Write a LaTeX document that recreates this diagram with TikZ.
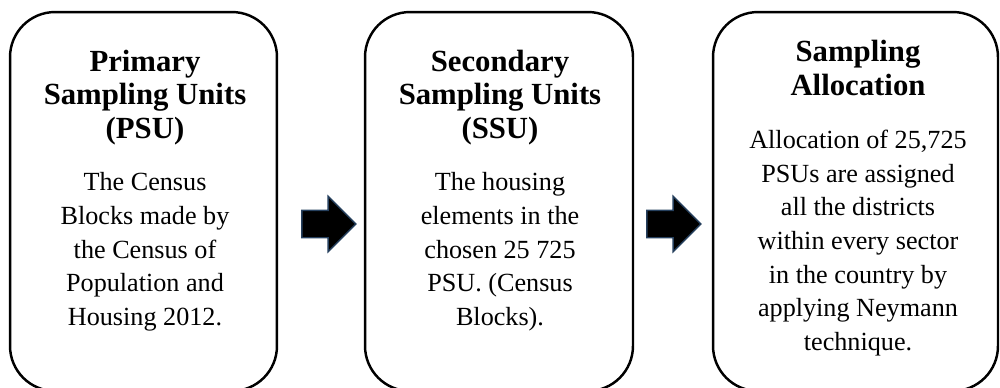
\documentclass[tikz,border=0pt]{standalone}
\usepackage{fontspec}
\setmainfont{Liberation Serif}
\usepackage{tikz}
\usetikzlibrary{shapes.arrows}
\definecolor{arrowedge}{RGB}{38,64,94}
\tikzset{stage/.style={draw=black,line width=1.4pt,rounded corners=0.9cm,minimum height=7.58cm,inner sep=0pt}}
\tikzset{heading/.style={font=\fontsize{17.5}{18.8}\selectfont\bfseries,align=center,anchor=base,inner sep=0pt}}
\tikzset{body/.style={font=\fontsize{14.9}{19.07}\selectfont,align=center,anchor=base,inner sep=0pt}}
\tikzset{flow/.style={single arrow,fill=black,draw=arrowedge,line width=0.8pt,inner xsep=0pt,inner ysep=0.26cm,single arrow head extend=0.28cm,minimum height=1.08cm}}

\begin{document}
\begin{tikzpicture}[x=0.02cm,y=-0.02cm]
  \useasboundingbox (0,0) rectangle (1000,387);
  \clip (0,0) rectangle (1000,387);
  % Boxes
  \node[stage,minimum width=5.34cm] (psu) at (143.5,201.5) {};
  \node[stage,minimum width=5.36cm] (ssu) at (499,201.5) {};
  \node[stage,minimum width=5.7cm] (alloc) at (855.5,201.5) {};

  % Arrows
  \node[flow] (arr1) at (322,224) {};
  \node[flow] (arr2) at (667,224) {};

  % Texts (anchored on the last line)
  \node[heading] (psuhead) at (145,138) {Primary\\Sampling Units\\(PSU)};
  \node[body] (psutext) at (145,325) {The Census\\Blocks made by\\the Census of\\Population and\\Housing 2012.};
  \node[heading] (ssuhead) at (500,138) {Secondary\\Sampling Units\\(SSU)};
  \node[body] (ssutext) at (500,325) {The housing\\elements in the\\chosen 25 725\\PSU. (Census\\Blocks).};
  \node[heading] (allochead) at (858,95) {Sampling\\Allocation};
  \node[body] (alloctext) at (858,350) {Allocation of 25,725\\PSUs are assigned\\all the districts\\within every sector\\in the country by\\applying Neymann\\technique.};
\end{tikzpicture}
\end{document}
